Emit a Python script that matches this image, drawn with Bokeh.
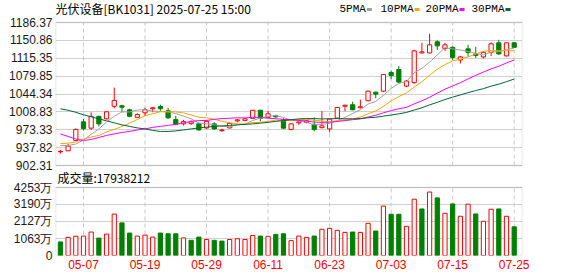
import numpy as np
import pandas as pd
from bokeh.plotting import figure
from bokeh.models import (Range1d, FixedTicker, Label, ColumnDataSource, Grid,
                          CustomJSTickFormatter, BoxAnnotation)
from bokeh.embed import file_html
from bokeh.resources import INLINE

# ---------------- data ----------------
dates = ["04-29", "04-30", "05-06", "05-07", "05-08", "05-09", "05-12", "05-13", "05-14", "05-15",
         "05-16", "05-19", "05-20", "05-21", "05-22", "05-23", "05-26", "05-27", "05-28", "05-29",
         "05-30", "06-03", "06-04", "06-05", "06-06", "06-09", "06-10", "06-11", "06-12", "06-13",
         "06-16", "06-17", "06-18", "06-19", "06-20", "06-23", "06-24", "06-25", "06-26", "06-27",
         "06-30", "07-01", "07-02", "07-03", "07-04", "07-07", "07-08", "07-09", "07-10", "07-11",
         "07-14", "07-15", "07-16", "07-17", "07-18", "07-21", "07-22", "07-23", "07-24", "07-25"]

opens = [929.5, 931.5, 952, 989, 976.5, 1000, 995, 1020, 1021, 1013,
         998, 1007, 1015, 1019.5, 1011, 993.5, 985, 985.5, 985, 977,
         985, 971.5, 977, 991, 992, 996, 1012, 998, 1001, 993.5,
         974, 987, 988, 984, 977.5, 975, 996.5, 1020, 1023, 1017,
         1031, 1048, 1050, 1087, 1093, 1060, 1067, 1126, 1126, 1148,
         1135, 1137, 1112, 1134, 1124, 1118, 1127, 1146, 1120, 1146]
highs = [933, 945, 976, 995, 1008, 1001, 1010, 1057, 1023, 1015,
         1006, 1017, 1018, 1023, 1017, 1001, 993, 992, 988, 992,
         988, 975, 988, 995, 997, 1013, 1013, 1011, 1003, 996,
         986, 992, 992, 998, 1010, 995, 1018, 1023, 1029, 1033,
         1051, 1049, 1084, 1091, 1100, 1072, 1132, 1146, 1164, 1151,
         1146, 1139, 1120, 1142, 1138, 1129, 1147, 1152, 1147, 1147]
lows = [926, 931, 951, 972, 973, 980, 994, 1016, 1008, 998,
        997, 1001, 1008, 1011, 995, 982, 982, 983, 971, 975,
        973, 969, 976, 988, 990, 995, 990, 997, 997, 975,
        972, 983, 986, 970, 976, 968, 996, 1010, 1012, 1016,
        1030, 1036, 1048, 1074, 1066, 1058, 1065, 1125, 1125, 1132,
        1130, 1112, 1105, 1118, 1116, 1115, 1120, 1122, 1119, 1136]
closes = [930.5, 941, 974, 975.5, 1000, 985, 1009, 1031.5, 1018, 1000,
          1003.5, 1013, 1017, 1015, 997, 984, 989.5, 989, 973, 990,
          975, 973, 986, 993, 995, 1012, 996, 1005, 999, 976.5,
          985, 989, 991, 974, 981, 994.5, 1017.5, 1022, 1013, 1019,
          1050, 1044, 1083, 1081, 1068, 1070, 1130, 1128, 1142, 1140,
          1142, 1117, 1118, 1127, 1121, 1127, 1144, 1124, 1146, 1137]
close_before_first = 934.0

# volume in 万
volumes = [850, 1132, 1205, 1214, 1466, 1088, 1340, 2590, 2040, 1403,
           1214, 1277, 1151, 1403, 1359, 1359, 1100, 950, 1150, 1000,
           950, 900, 1000, 1050, 1000, 1250, 1214, 1200, 1321, 1359,
           930, 1214, 1132, 1214, 1635, 1698, 1572, 1447, 1466, 1447,
           2013, 1528, 3090, 2579, 2579, 1824, 3522, 2912, 3970, 3604,
           2642, 3227, 2453, 3208, 2598, 2139, 2893, 2912, 2453, 1793.8212]

ma5_head = [942, 942, 945, 953]
ma10_head = [946, 946.5, 949, 955, 959, 962, 969, 974, 980]
ma20_head = [965, 960, 955, 952, 954, 958, 962, 965, 968, 970, 973, 975, 978, 980,
             982, 984, 987, 990, 991.5]
ma30_head = [1015, 1012, 1008, 1003, 999, 995, 991, 987, 983, 980, 977, 975, 972, 970,
             970, 971, 973, 975, 977, 978.5, 980, 981, 982, 983, 984, 985, 986.5, 988, 990]

ma_names = ["5PMA", "10PMA", "20PMA", "30PMA"]
ma_windows = [5, 10, 20, 30]
ma_colors = ["#a0a0a0", "#ffa500", "#ff00ff", "#006633"]

price_ticks = [902.31, 937.82, 973.33, 1008.83, 1044.34, 1079.85, 1115.35, 1150.86, 1186.37]
volume_ticks = [0, 1063, 2127, 3190, 4253]
date_ticks = ["05-07", "05-19", "05-29", "06-11", "06-23", "07-03", "07-15", "07-25"]
title_text = "光伏设备[BK1031] 2025-07-25 15:00"

# ---------------- layout constants ----------------
W, H = 578, 276
LEFT, RIGHT = 55, 56
FRAME_W = W - LEFT - RIGHT
X0, X1 = -0.64, 60.08
P_TOP, P_BOT = 22, 165          # price box (page px)
V_TOP, V_BOT = 187, 255         # volume box (page px)
PMIN, PMAX = price_ticks[0], price_ticks[-1]
VMAX = volume_ticks[-1]
RED = "#ff0000"
GREEN = "#008000"
BOX = "#999999"
HGRID = "#d0d0d0"
VGRID = "#c8c8c8"

P_PER_PX = (PMAX - PMIN) / (P_BOT - P_TOP)
V_PER_PX = VMAX / (V_BOT - V_TOP)


def sx(px):
    return X0 + (px - LEFT) * (X1 - X0) / FRAME_W


def py1(py):
    return PMIN + (P_BOT - py) * P_PER_PX


n = len(closes)
x = np.arange(n)
o = np.array(opens, dtype=float)
c = np.array(closes, dtype=float)
up = c >= o
prev = np.array([close_before_first] + closes[:-1], dtype=float)
vup = c >= prev

cs = pd.Series(closes, dtype=float)
mas = []
for w, head in zip(ma_windows, [ma5_head, ma10_head, ma20_head, ma30_head]):
    r = cs.rolling(w).mean().to_numpy()
    r[:len(head)] = head
    mas.append(r)

candles = ColumnDataSource(dict(
    x=x, h=highs, l=lows,
    top=np.maximum(o, c), bot=np.minimum(o, c),
    line=[RED if u else GREEN for u in up],
    fill=["white" if u else GREEN for u in up],
))
vols = ColumnDataSource(dict(
    x=x, v=volumes,
    line=[RED if u else GREEN for u in vup],
    fill=["white" if u else GREEN for u in vup],
))
tick_idx = [dates.index(d) for d in date_ticks]

# ---------------- one figure, two panels (price scale + volume scale) ----------------
p = figure(width=W, height=H, x_range=Range1d(X0, X1),
           y_range=Range1d(py1(V_BOT), py1(0)),
           output_backend="svg", toolbar_location=None,
           min_border_left=LEFT, min_border_right=RIGHT,
           min_border_top=0, min_border_bottom=H - V_BOT)
p.extra_y_ranges = {"vol": Range1d(0, V_BOT * V_PER_PX)}
p.grid.visible = False
p.outline_line_color = None
p.background_fill_color = "white"
p.border_fill_color = "white"

# y axis ticks: price ticks on the price scale, volume ticks placed where the volume scale puts them
vol_tick_pos = [py1(V_BOT - v / V_PER_PX) for v in volume_ticks]
all_ticks = price_ticks + vol_tick_pos
all_labels = [f"{t:.2f}" for t in price_ticks] + ["0" if v == 0 else f"{v}万" for v in volume_ticks]

p.add_layout(Grid(dimension=1, ticker=FixedTicker(ticks=all_ticks),
                  grid_line_color=HGRID, grid_line_width=1))
p.segment(x0=tick_idx, y0=PMIN, x1=tick_idx, y1=PMAX, line_color=VGRID,
          line_width=1, line_dash="4 3")
p.segment(x0=tick_idx, y0=0, x1=tick_idx, y1=VMAX, line_color=VGRID,
          line_width=1, line_dash="4 3", y_range_name="vol")
p.add_layout(BoxAnnotation(left=X0, right=X1, bottom=PMIN, top=PMAX, fill_alpha=0,
                           line_color=BOX, line_width=1.5, level="underlay"))
p.add_layout(BoxAnnotation(left=X0, right=X1, bottom=0, top=VMAX, fill_alpha=0,
                           line_color=BOX, line_width=1.5, level="underlay",
                           y_range_name="vol"))

ya = p.yaxis[0]
ya.ticker = FixedTicker(ticks=all_ticks)
ya.formatter = CustomJSTickFormatter(args=dict(pos=all_ticks, labs=all_labels), code="""
    for (let i = 0; i < pos.length; i++) {
        if (Math.abs(tick - pos[i]) < 1e-6) { return labs[i]; }
    }
    return "";
""")
ya.axis_line_color = None
ya.major_tick_line_color = None
ya.minor_tick_line_color = None
ya.major_tick_out = 0
ya.major_tick_in = 0
ya.major_label_standoff = 3
ya.major_label_text_font = "Liberation Sans"
ya.major_label_text_font_size = "12px"
ya.major_label_text_color = "#1a1a1a"

xa = p.xaxis[0]
xa.ticker = FixedTicker(ticks=tick_idx)
xa.major_label_overrides = {i: d for i, d in zip(tick_idx, date_ticks)}
xa.axis_line_color = None
xa.major_tick_line_color = None
xa.minor_tick_line_color = None
xa.major_tick_out = 0
xa.major_tick_in = 0
xa.major_label_standoff = 4
xa.major_label_text_font = "Liberation Sans"
xa.major_label_text_font_size = "12px"
xa.major_label_text_color = RED

# candles
p.segment(x0="x", y0="l", x1="x", y1="h", line_color="line", line_width=1, source=candles)
p.vbar(x="x", width=0.55, top="top", bottom="bot", fill_color="fill",
       line_color="line", line_width=1, source=candles)
for ma, col in zip(mas, ma_colors):
    p.line(x, ma, line_color=col, line_width=1)

# volume bars
p.vbar(x="x", width=0.55, top="v", bottom=0, fill_color="fill", line_color="line",
       line_width=1, source=vols, y_range_name="vol")

# header texts and legend
p.add_layout(Label(x=sx(55), y=py1(8), text=title_text, text_font="Noto Sans CJK SC",
                   text_font_size="12px", text_baseline="middle", text_align="left",
                   text_color="#000000"))
legend_text_x = [339, 380, 425, 471]
for name, col, tx in zip(ma_names, ma_colors, legend_text_x):
    p.add_layout(Label(x=sx(tx), y=py1(8.5), text=name, text_font="Liberation Mono",
                       text_font_size="11px", text_baseline="middle", text_align="left",
                       text_color="#000000"))
    sw = tx + len(name) * 6.6 + 1
    p.add_layout(BoxAnnotation(left=sx(sw), right=sx(sw + 5), top=py1(7.5), bottom=py1(10.5),
                               fill_color=col, fill_alpha=1.0, line_color=None))

vol_text = "成交量:" + str(int(round(volumes[-1] * 10000)))
p.add_layout(Label(x=sx(57), y=py1(177), text=vol_text, text_font="Noto Sans CJK SC",
                   text_font_size="12px", text_baseline="middle", text_align="left",
                   text_color="#000000"))

open("out.html", "w").write(file_html(p, INLINE))
